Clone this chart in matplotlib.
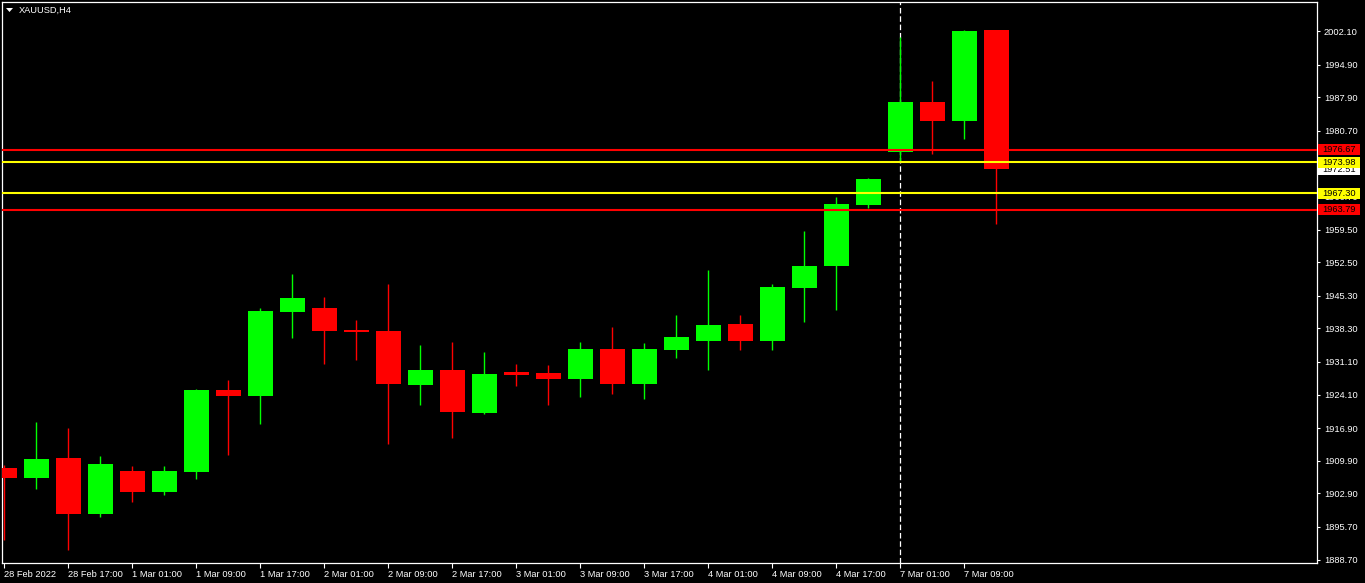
import matplotlib
matplotlib.use("Agg")
import matplotlib.pyplot as plt
from matplotlib.patches import Rectangle, Polygon
from matplotlib.transforms import IdentityTransform

plt.rcParams['font.family'] = ['Liberation Sans', 'DejaVu Sans']
plt.rcParams['lines.scale_dashes'] = False

# ---------------- data ----------------
symbol_title = "XAUUSD,H4"
opens = [1908.34, 1906.26, 1910.49, 1898.53, 1907.70, 1903.25, 1907.55, 1925.08,
         1923.86, 1941.89, 1942.69, 1937.97, 1937.75, 1926.22, 1929.38, 1920.21,
         1928.95, 1928.73, 1927.51, 1933.89, 1926.44, 1933.74, 1935.67, 1939.25,
         1935.67, 1947.05, 1951.77, 1964.86, 1976.24, 1986.91, 1982.90, 2002.37]
highs = [1908.92, 1918.22, 1916.93, 1910.92, 1908.77, 1908.77, 1925.30, 1927.23,
         1942.69, 1949.99, 1945.05, 1940.11, 1947.84, 1934.74, 1935.39, 1933.24,
         1930.67, 1930.45, 1935.39, 1938.61, 1935.17, 1941.18, 1950.85, 1941.18,
         1947.84, 1959.22, 1966.52, 1970.59, 2000.86, 1991.42, 2002.37, 2002.37]
lows = [1892.95, 1903.90, 1890.80, 1897.89, 1901.11, 1902.61, 1906.04, 1911.20,
        1917.85, 1936.31, 1930.73, 1931.59, 1913.56, 1921.93, 1914.78, 1920.00,
        1926.01, 1921.93, 1923.65, 1924.29, 1923.22, 1932.02, 1929.44, 1933.74,
        1933.74, 1939.75, 1942.32, 1964.22, 1974.31, 1975.81, 1979.03, 1960.78]
closes = [1906.26, 1910.27, 1898.53, 1909.20, 1903.25, 1907.70, 1925.08, 1923.86,
          1942.04, 1944.83, 1937.75, 1937.60, 1926.44, 1929.38, 1920.43, 1928.52,
          1928.37, 1927.51, 1933.89, 1926.44, 1933.89, 1936.46, 1939.04, 1935.67,
          1947.20, 1951.70, 1965.01, 1970.38, 1986.91, 1982.90, 2002.15, 1972.51]

x_label_pos = [0, 2, 4, 6, 8, 10, 12, 14, 16, 18, 20, 22, 24, 26, 28, 30]
x_labels = ["28 Feb 2022", "28 Feb 17:00", "1 Mar 01:00", "1 Mar 09:00",
            "1 Mar 17:00", "2 Mar 01:00", "2 Mar 09:00", "2 Mar 17:00",
            "3 Mar 01:00", "3 Mar 09:00", "3 Mar 17:00", "4 Mar 01:00",
            "4 Mar 09:00", "4 Mar 17:00", "7 Mar 01:00", "7 Mar 09:00"]
y_ticks = [2002.10, 1994.90, 1987.90, 1980.70, 1973.70, 1966.70, 1959.50,
           1952.50, 1945.30, 1938.30, 1931.10, 1924.10, 1916.90, 1909.90,
           1902.90, 1895.70, 1888.70]
red_levels = [1976.67, 1963.79]
yellow_levels = [1973.98, 1967.30]
bid_price = 1972.51
separator_index = 28

# ---------------- styling ----------------
W, H = 1365, 583
BULL = '#00FF00'
BEAR = '#FF0000'
FS = 6.7

fig = plt.figure(figsize=(W / 100, H / 100), dpi=100, facecolor='black')
ax = fig.add_axes([2 / W, 20 / H, (1317 - 2) / W, (563 - 2) / H])
ax.set_facecolor('black')

ax.set_xlim(-0.078, 41.02)
ax.set_ylim(1887.95, 2008.38)

for i, (o, h, l, c) in enumerate(zip(opens, highs, lows, closes)):
    col = BULL if c >= o else BEAR
    ax.vlines(i, l, h, color=col, linewidth=1.0, zorder=2)
    body = max(abs(c - o), 0.25)
    ax.bar(i, body, bottom=min(o, c), width=0.78, color=col, linewidth=0, zorder=3)

ax.axvline(separator_index, color='white', linewidth=0.9, dashes=(4, 2), zorder=1)

for v in red_levels:
    ax.axhline(v, color=BEAR, linewidth=1.5, zorder=4)
for v in yellow_levels:
    ax.axhline(v, color='#FFFF00', linewidth=1.5, zorder=4)

for s in ax.spines.values():
    s.set_color('white')
    s.set_linewidth(0.9)

ax.set_xticks(x_label_pos)
ax.set_xticklabels(x_labels, ha='left', fontsize=FS, color='white')
ax.tick_params(axis='x', colors='white', length=3.5, width=0.8, direction='out', pad=1.5)

ax.yaxis.tick_right()
ax.set_yticks(y_ticks)
ax.set_yticklabels([f"{v:.2f}" for v in y_ticks], fontsize=FS, color='white')
ax.tick_params(axis='y', colors='white', length=2.5, width=0.8, direction='out', pad=2.5)
for lab in ax.get_yticklabels():
    lab.set_horizontalalignment('left')

# price labels on the right axis
fig.canvas.draw()


def price_box(val, face, z):
    yd = ax.transData.transform((0, val))[1]
    rect = Rectangle((1318, yd - 5.5), 42, 11, facecolor=face, edgecolor='none',
                     transform=IdentityTransform(), zorder=z)
    fig.add_artist(rect)
    t = fig.text(1322 / W, yd / H, f"{val:.2f}", color='black', fontsize=FS,
                 va='center', ha='left', zorder=z + 0.5)
    return t


price_box(red_levels[0], BEAR, 5)
price_box(bid_price, 'white', 6)
price_box(yellow_levels[0], '#FFFF00', 7)
price_box(yellow_levels[1], '#FFFF00', 8)
price_box(red_levels[1], BEAR, 9)

# title with triangle
tri = Polygon([[6, H - 8], [13, H - 8], [9.5, H - 12]], closed=True,
              facecolor='white', edgecolor='none', transform=IdentityTransform())
fig.add_artist(tri)
fig.text(19 / W, 1 - 10 / H, symbol_title, color='white', fontsize=FS,
         va='center', ha='left')

fig.savefig('out.png', dpi=100, facecolor='black')
